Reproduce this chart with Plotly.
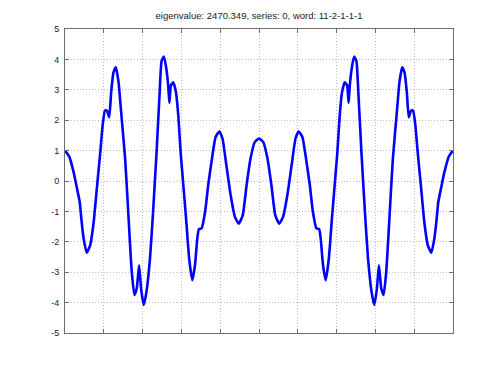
import plotly.graph_objects as go

x_vals = [0.00, 0.11, 0.22, 0.31, 0.38, 0.42, 0.48, 0.56, 0.65, 0.74, 0.82, 0.91, 0.97, 1.03, 1.08, 1.14,
          1.19, 1.25, 1.31, 1.38, 1.44, 1.55, 1.63, 1.72, 1.79, 1.85, 1.91, 1.96, 2.03, 2.10, 2.19, 2.27,
          2.36, 2.44, 2.49, 2.55, 2.60, 2.66, 2.69, 2.73, 2.79, 2.86, 2.92, 2.98, 3.05, 3.12, 3.20, 3.28,
          3.35, 3.41, 3.45, 3.52, 3.61, 3.69, 3.80, 3.88, 3.98, 4.06, 4.16, 4.27, 4.38, 4.48, 4.58, 4.68,
          4.78, 4.89, 5.00,
          5.11, 5.22, 5.32, 5.42, 5.52, 5.62, 5.73, 5.84, 5.94, 6.02, 6.12, 6.20, 6.31, 6.39, 6.48, 6.55,
          6.59, 6.65, 6.72, 6.80, 6.88, 6.95, 7.02, 7.08, 7.14, 7.21, 7.27, 7.31, 7.34, 7.40, 7.45, 7.51,
          7.56, 7.64, 7.73, 7.81, 7.90, 7.97, 8.04, 8.09, 8.15, 8.21, 8.28, 8.37, 8.45, 8.56, 8.62, 8.69,
          8.75, 8.81, 8.86, 8.92, 8.97, 9.03, 9.09, 9.18, 9.26, 9.35, 9.44, 9.52, 9.58, 9.62, 9.69, 9.78,
          9.89, 10.00]
y_vals = [1.00, 0.80, 0.30, -0.25, -0.70, -1.23, -1.89, -2.36, -2.11, -1.34, -0.25, 0.95, 1.83, 2.32, 2.32, 2.10,
          2.92, 3.57, 3.74, 3.25, 2.37, 0.73, -1.02, -2.98, -3.75, -3.53, -2.77, -3.53, -4.08, -3.64, -2.55, -1.02,
          0.95, 2.92, 3.95, 4.09, 3.79, 3.14, 2.57, 3.14, 3.25, 2.92, 2.15, 0.95, -0.14, -1.23, -2.55, -3.26,
          -2.77, -1.89, -1.58, -1.56, -1.02, -0.14, 0.84, 1.44, 1.63, 1.39, 0.51, -0.47, -1.18, -1.40, -1.13, -0.14,
          0.73, 1.28, 1.40,
          1.28, 0.73, -0.14, -1.13, -1.40, -1.18, -0.47, 0.51, 1.39, 1.63, 1.44, 0.84, -0.14, -1.02, -1.56, -1.58,
          -1.89, -2.77, -3.26, -2.55, -1.23, -0.14, 0.95, 2.15, 2.92, 3.25, 3.14, 2.57, 3.14, 3.79, 4.09, 3.95,
          2.92, 0.95, -1.02, -2.55, -3.64, -4.08, -3.53, -2.77, -3.53, -3.75, -2.98, -1.02, 0.73, 2.37, 3.25, 3.74,
          3.57, 2.92, 2.10, 2.32, 2.32, 1.83, 0.95, -0.25, -1.34, -2.11, -2.36, -1.89, -1.23, -0.70, -0.25, 0.30,
          0.80, 1.00]

x_ticks = list(range(0, 11))
y_ticks = [-5, -4, -3, -2, -1, 0, 1, 2, 3, 4, 5]
title_text = "eigenvalue: 2470.349, series: 0, word: 11-2-1-1-1"

fig = go.Figure()
fig.add_trace(go.Scatter(x=x_vals, y=y_vals, mode="lines",
                         line=dict(color="#0000ff", width=2.6, shape="spline", smoothing=0.5),
                         showlegend=False, hoverinfo="skip"))

axis_common = dict(showline=True, linecolor="#6e6e6e", linewidth=1, mirror="ticks",
                   ticks="inside", ticklen=4, tickcolor="#6e6e6e",
                   showgrid=True, gridcolor="#bdbdbd", griddash="1px,2px", gridwidth=1,
                   zeroline=False)

fig.update_xaxes(range=[0, 10], tickvals=x_ticks, showticklabels=False, **axis_common)
fig.update_yaxes(range=[-5, 5], tickvals=y_ticks, ticktext=[str(v) for v in y_ticks],
                 tickfont=dict(family="Liberation Sans, Arial", size=9, color="#222"), ticklabelstandoff=3,
                 **axis_common)

fig.update_layout(
    width=500, height=375,
    margin=dict(l=65, r=47, t=29, b=42),
    paper_bgcolor="white", plot_bgcolor="white",
    title=dict(text=title_text, x=(259 / 500), xanchor="center", xref="container",
               y=(375 - 16) / 375, yanchor="middle", yref="container",
               font=dict(family="Liberation Sans, Arial", size=9.5, color="#222")),
)

fig.write_html("out.html")
